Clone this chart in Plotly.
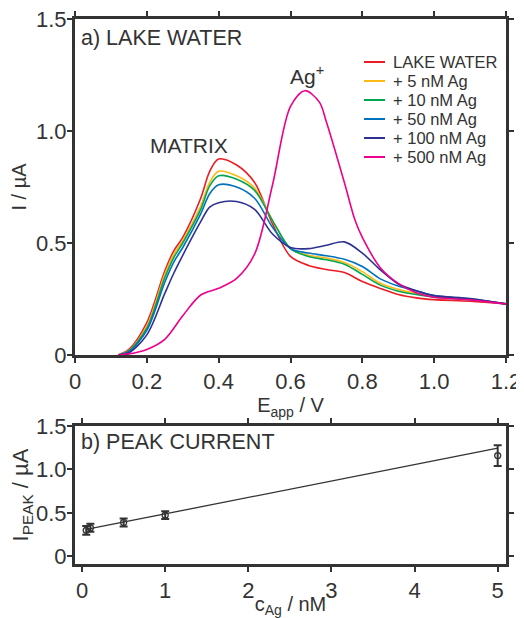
import plotly.graph_objects as go

# ---- panel a data ----
E = [0.12, 0.15, 0.2, 0.25, 0.275, 0.3, 0.35, 0.375, 0.4, 0.45, 0.5, 0.55, 0.6, 0.65,
     0.7, 0.75, 0.8, 0.85, 0.9, 0.95, 1.0, 1.1, 1.2]
lake = [0, 0.025, 0.145, 0.375, 0.465, 0.525, 0.70, 0.82, 0.875, 0.848, 0.77, 0.585, 0.44, 0.40,
        0.382, 0.368, 0.328, 0.297, 0.27, 0.255, 0.247, 0.24, 0.228]
ag5 = [0, 0.02, 0.13, 0.36, 0.45, 0.51, 0.665, 0.77, 0.82, 0.80, 0.745, 0.60, 0.475, 0.445,
       0.433, 0.413, 0.372, 0.32, 0.293, 0.275, 0.262, 0.25, 0.228]
ag10 = [0, 0.018, 0.12, 0.345, 0.435, 0.50, 0.65, 0.755, 0.80, 0.785, 0.735, 0.60, 0.475, 0.44,
        0.425, 0.405, 0.36, 0.312, 0.285, 0.27, 0.258, 0.247, 0.228]
ag50 = [0, 0.015, 0.11, 0.325, 0.415, 0.48, 0.63, 0.72, 0.76, 0.75, 0.70, 0.57, 0.475, 0.455,
        0.443, 0.427, 0.395, 0.34, 0.308, 0.286, 0.265, 0.25, 0.228]
ag100 = [0, 0.01, 0.09, 0.275, 0.365, 0.445, 0.595, 0.66, 0.68, 0.685, 0.65, 0.54, 0.48, 0.475,
         0.49, 0.505, 0.455, 0.38, 0.317, 0.287, 0.265, 0.252, 0.228]
E500 = [0.12, 0.15, 0.2, 0.25, 0.3, 0.35, 0.4, 0.45, 0.5, 0.55, 0.6, 0.64, 0.68, 0.7, 0.75,
        0.78, 0.8, 0.85, 0.9, 0.95, 1.0, 1.1, 1.2]
ag500 = [0, 0.005, 0.025, 0.07, 0.175, 0.268, 0.298, 0.342, 0.45, 0.76, 1.11, 1.18, 1.13, 1.04,
         0.77, 0.60, 0.525, 0.39, 0.32, 0.278, 0.258, 0.246, 0.228]

series_names = ["LAKE WATER", "+ 5 nM Ag", "+ 10 nM Ag", "+ 50 nM Ag", "+ 100 nM Ag", "+ 500 nM Ag"]
series_colors = ["#ED1C24", "#FDB913", "#00A651", "#0072BC", "#2E3192", "#EC008C"]

# ---- panel b data ----
conc = [0.05, 0.1, 0.5, 1, 5]
ipeak = [0.30, 0.33, 0.39, 0.475, 1.16]
ipeak_err = [0.05, 0.045, 0.045, 0.045, 0.12]
fit_x = [0.05, 5]
fit_y = [0.31, 1.245]

a_xticks = [0, 0.2, 0.4, 0.6, 0.8, 1.0, 1.2]
a_xtext = ["0", "0.2", "0.4", "0.6", "0.8", "1.0", "1.2"]
yticks = [0, 0.5, 1.0, 1.5]
ytext = ["0", "0.5", "1.0", "1.5"]
b_xticks = [0, 1, 2, 3, 4, 5]

FONT = "Liberation Sans, Arial, sans-serif"
TXT = "#333333"
FRAME = "#333333"

fig = go.Figure()
xs = [E, E, E, E, E, E500]
ys = [lake, ag5, ag10, ag50, ag100, ag500]
for x, y, n, c in zip(xs, ys, series_names, series_colors):
    fig.add_trace(go.Scatter(x=x, y=y, name=n, mode="lines", showlegend=False,
                             line=dict(color=c, width=1.6, shape="spline", smoothing=0.9),
                             xaxis="x", yaxis="y"))

fig.add_trace(go.Scatter(x=fit_x, y=fit_y, mode="lines", showlegend=False,
                         line=dict(color="#333333", width=1.3), xaxis="x2", yaxis="y2"))
fig.add_trace(go.Scatter(x=conc, y=ipeak, mode="markers", showlegend=False,
                         marker=dict(symbol="circle-open", size=6, color="#333333",
                                     line=dict(width=1.3)),
                         error_y=dict(type="data", array=ipeak_err, color="#333333",
                                      thickness=2, width=4),
                         xaxis="x2", yaxis="y2"))

axis_common = dict(showline=True, linewidth=3, linecolor=FRAME, mirror="ticks",
                   ticks="outside", ticklen=5, tickwidth=2, tickcolor=FRAME,
                   showgrid=False, zeroline=False, automargin=False,
                   ticklabeloverflow="allow",
                   tickfont=dict(family=FONT, size=22, color=TXT))

# page body adds an 8px offset; figure sized to fill the rest of the window
OFF = 8
W, H = 524 - OFF, 618 - OFF
ML, MR, MT, MB = 75 - OFF, 18, 19 - OFF, 54
PW, PH = W - ML - MR, H - MT - MB

def py2paper(py):
    return (H - MB - (py - OFF)) / PH

def px2paper(px):
    return (px - OFF - ML) / PW

top_bottom = py2paper(355)
bot_top = py2paper(426)

# manual legend (paper coordinates)
shapes = []
annotations = []
leg_x0, leg_x1, leg_tx = px2paper(364), px2paper(385), px2paper(391)
for i, (n, c) in enumerate(zip(series_names, series_colors)):
    yp = py2paper(62 + 19 * i)
    shapes.append(dict(type="line", xref="paper", yref="paper", x0=leg_x0, x1=leg_x1,
                       y0=yp, y1=yp, line=dict(color=c, width=2)))
    annotations.append(dict(text=n, xref="paper", yref="paper", x=leg_tx, y=yp,
                            xanchor="left", yanchor="middle", showarrow=False,
                            font=dict(family=FONT, size=16.5, color=TXT)))

annotations += [
    dict(text="a) LAKE WATER", xref="x domain", yref="y domain", x=0.01, y=0.985,
         xanchor="left", yanchor="top", showarrow=False,
         font=dict(family=FONT, size=21.5, color=TXT)),
    dict(text="MATRIX", xref="x", yref="y", x=0.317, y=0.9375, showarrow=False,
         xanchor="center", yanchor="middle", font=dict(family=FONT, size=21, color=TXT)),
    dict(text="Ag<sup>+</sup>", xref="x", yref="y", x=0.645, y=1.25, showarrow=False,
         xanchor="center", yanchor="middle", font=dict(family=FONT, size=21, color=TXT)),
    dict(text="b) PEAK CURRENT", xref="x2 domain", yref="y2 domain", x=0.01, y=0.985,
         xanchor="left", yanchor="top", showarrow=False,
         font=dict(family=FONT, size=21.5, color=TXT)),
]

fig.update_layout(
    width=W, height=H,
    margin=dict(l=ML, r=MR, t=MT, b=MB),
    paper_bgcolor="white", plot_bgcolor="white",
    font=dict(family=FONT, color=TXT),
    showlegend=False,
    xaxis=dict(axis_common, range=[0, 1.2], tickvals=a_xticks, ticktext=a_xtext,
               domain=[0, 1], anchor="y",
               title=dict(text="E<sub>app</sub> / V", font=dict(family=FONT, size=20, color=TXT),
                          standoff=2)),
    yaxis=dict(axis_common, range=[0, 1.5], tickvals=yticks, ticktext=ytext,
               ticklabelstandoff=-4,
               domain=[top_bottom, 1], anchor="x",
               title=dict(text="I / µA", font=dict(family=FONT, size=20, color=TXT), standoff=10)),
    xaxis2=dict(axis_common, range=[-0.085, 5.1], tickvals=b_xticks,
                domain=[0, 1], anchor="y2",
                title=dict(text="c<sub>Ag</sub> / nM", font=dict(family=FONT, size=20, color=TXT),
                           standoff=0)),
    yaxis2=dict(axis_common, range=[-0.087, 1.5], tickvals=yticks, ticktext=ytext,
                ticklabelstandoff=-4,
                domain=[0, bot_top], anchor="x2",
                title=dict(text="I<sub>PEAK</sub> / µA", font=dict(family=FONT, size=22, color=TXT),
                           standoff=6)),
    shapes=shapes,
    annotations=annotations,
)

fig.write_html("out.html")
